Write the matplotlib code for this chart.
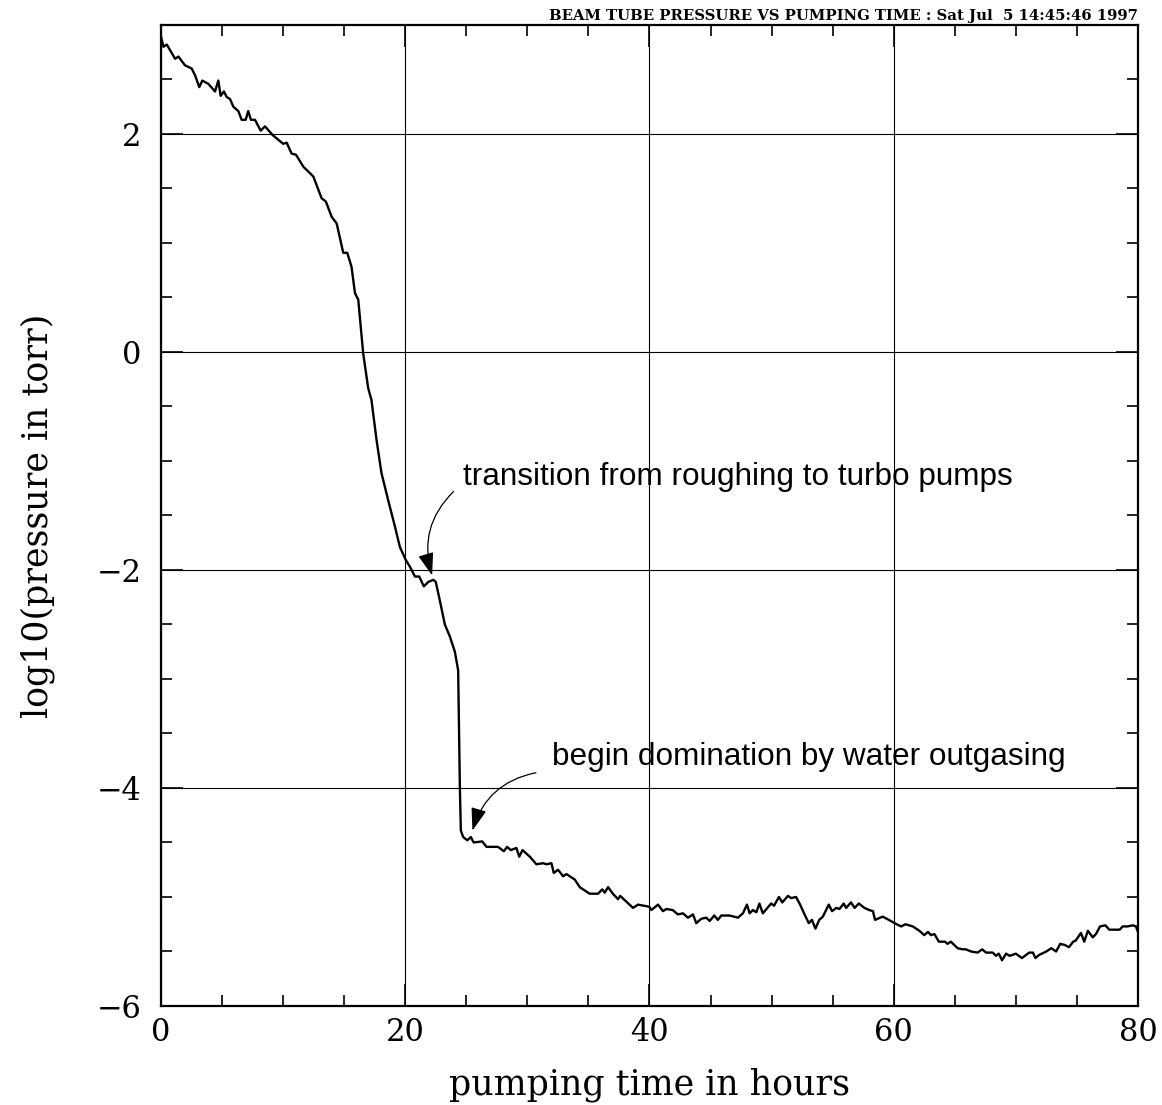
import matplotlib
matplotlib.use("Agg")
import matplotlib.pyplot as plt
from matplotlib.patches import FancyArrowPatch
from matplotlib.ticker import MultipleLocator

# pumping time (hours) and log10 pressure (torr)
hours = [
    0.0, 0.2, 0.47, 1.15, 1.42, 1.96, 2.51, 2.78, 3.13, 3.38, 3.87, 4.42, 4.69, 4.88,
    5.15, 5.37, 5.65, 5.92, 6.33, 6.60, 6.93, 7.14, 7.36, 7.69, 8.16, 8.51, 9.14,
    10.0, 10.29, 10.69, 11.05, 11.65, 12.47, 13.15, 13.5, 13.97, 14.38, 14.92, 15.25,
    15.6, 15.88, 16.15, 16.55, 16.96, 17.23, 17.65, 18.05, 18.6, 19.15, 19.56, 20.05,
    20.38, 20.79, 21.14, 21.52, 21.88, 22.3, 22.5, 22.83, 23.24, 23.65, 24.06, 24.33,
    24.47, 24.55, 24.74, 25.08, 25.37, 25.6, 26.3, 26.65, 27.6, 28.07, 28.34, 28.64,
    29.1, 29.33, 29.6, 30.2, 30.74, 31.29, 31.56, 31.97, 32.16, 32.51, 32.92, 33.2,
    33.88, 34.29, 35.1, 35.79, 36.13, 36.33, 36.61, 37.0, 37.42, 37.6, 38.65, 39.06,
    40.0, 40.15, 40.7, 41.1, 41.38, 41.9, 42.33, 42.74, 43.15, 43.56, 43.83, 44.24,
    44.65, 44.93, 45.3, 45.6, 45.88, 46.56, 47.24, 47.65, 47.98, 48.2, 48.47, 48.75,
    49.0, 49.28, 49.96, 50.2, 50.6, 50.87, 51.34, 51.6, 52.0, 52.29, 52.7, 53.04,
    53.3, 53.59, 53.9, 54.2, 54.68, 54.95, 55.3, 55.56, 55.9, 56.1, 56.5, 56.8,
    57.14, 57.6, 58.0, 58.3, 58.47, 59.1, 59.6, 60.07, 60.6, 60.97, 61.56, 62.1,
    62.5, 62.8, 63.05, 63.33, 63.7, 64.2, 64.4, 64.68, 65.23, 65.64, 65.9, 66.33,
    66.87, 67.24, 67.56, 68.1, 68.38, 68.6, 68.87, 69.2, 69.5, 70.0, 70.5, 71.1,
    71.4, 71.6, 71.93, 72.5, 72.9, 73.3, 73.63, 74.0, 74.35, 74.7, 74.9, 75.33,
    75.6, 75.9, 76.3, 76.56, 76.9, 77.33, 77.66, 78.07, 78.5, 78.75, 79.16, 79.57,
    79.84, 80.0,
]
log_pressure = [
    2.89, 2.80, 2.82, 2.69, 2.71, 2.63, 2.60, 2.54, 2.43, 2.49, 2.46, 2.39, 2.49, 2.35,
    2.39, 2.34, 2.32, 2.25, 2.21, 2.13, 2.13, 2.21, 2.13, 2.13, 2.03, 2.07, 1.99,
    1.91, 1.92, 1.82, 1.81, 1.70, 1.61, 1.41, 1.38, 1.24, 1.18, 0.91, 0.91,
    0.78, 0.54, 0.48, -0.01, -0.33, -0.44, -0.81, -1.11, -1.36, -1.60, -1.79, -1.91,
    -1.97, -2.06, -2.06, -2.15, -2.11, -2.09, -2.11, -2.28, -2.50, -2.61, -2.75, -2.92,
    -3.99, -4.39, -4.45, -4.48, -4.45, -4.50, -4.49, -4.54, -4.54, -4.58, -4.54, -4.57,
    -4.55, -4.63, -4.57, -4.63, -4.70, -4.69, -4.70, -4.69, -4.78, -4.75, -4.81, -4.79,
    -4.84, -4.91, -4.97, -4.97, -4.93, -4.96, -4.91, -4.97, -5.02, -4.99, -5.10, -5.07,
    -5.09, -5.12, -5.07, -5.13, -5.11, -5.12, -5.16, -5.15, -5.19, -5.16, -5.24, -5.20,
    -5.19, -5.22, -5.17, -5.21, -5.17, -5.17, -5.19, -5.15, -5.07, -5.15, -5.12, -5.14,
    -5.06, -5.15, -5.06, -5.08, -5.00, -5.05, -4.99, -5.01, -5.00, -5.06, -5.16, -5.24,
    -5.21, -5.29, -5.21, -5.18, -5.07, -5.13, -5.10, -5.11, -5.06, -5.10, -5.05, -5.10,
    -5.06, -5.10, -5.12, -5.13, -5.21, -5.18, -5.21, -5.24, -5.27, -5.25, -5.27, -5.31,
    -5.35, -5.32, -5.35, -5.34, -5.41, -5.41, -5.43, -5.41, -5.47, -5.48, -5.48, -5.50,
    -5.51, -5.48, -5.51, -5.51, -5.54, -5.52, -5.58, -5.52, -5.54, -5.52, -5.56, -5.51,
    -5.51, -5.56, -5.53, -5.50, -5.47, -5.50, -5.43, -5.44, -5.46, -5.41, -5.40, -5.33,
    -5.41, -5.31, -5.37, -5.34, -5.27, -5.26, -5.30, -5.30, -5.30, -5.27, -5.27, -5.26,
    -5.27, -5.32,
]

x_ticks = [0, 20, 40, 60, 80]
y_ticks = [-6, -4, -2, 0, 2]
y_tick_labels = ["\u22126", "\u22124", "\u22122", "0", "2"]

notes = [
    # text, text anchor (hours, log p), arrow start, arrow tip, bend
    ("transition from roughing to turbo pumps", (24.7, -1.15), (23.95, -1.28), (22.2, -2.05), 0.3),
    ("begin domination by water outgasing", (32.0, -3.72), (30.7, -3.86), (25.5, -4.39), 0.3),
]

fig = plt.figure(figsize=(11.62, 11.05), dpi=100)
ax = fig.add_axes([0.1386, 0.0896, 0.9793 - 0.1386, 0.9774 - 0.0896])

ax.plot(hours, log_pressure, color="black", lw=1.7, zorder=3)

ax.set_xlim(0, 80)
ax.set_ylim(-6, 3)
ax.set_xticks(x_ticks)
ax.set_yticks(y_ticks)
ax.set_yticklabels(y_tick_labels)
ax.xaxis.set_minor_locator(MultipleLocator(5))
ax.yaxis.set_minor_locator(MultipleLocator(0.5))

ax.grid(True, which="major", color="black", lw=0.8)
ax.tick_params(which="both", direction="in", top=True, right=True, width=1.2, color="black")
ax.tick_params(which="major", length=16)
ax.tick_params(which="minor", length=8)
ax.tick_params(axis="y", which="major", pad=14, labelsize=22)
ax.tick_params(axis="x", which="major", pad=8, labelsize=22)
for lab in ax.get_xticklabels() + ax.get_yticklabels():
    lab.set_family("DejaVu Serif")
for sp in ax.spines.values():
    sp.set_linewidth(1.6)

ax.set_xlabel("pumping time in hours", family="DejaVu Serif", fontsize=25, labelpad=14)
ax.set_ylabel("log10(pressure in torr)", family="DejaVu Serif", fontsize=25, labelpad=30)

for text, pos, start, tip, bend in notes:
    ax.text(pos[0], pos[1], text, family="Liberation Sans", fontsize=22.7,
            ha="left", va="center")
    ax.add_patch(FancyArrowPatch(start, tip, connectionstyle=f"arc3,rad={bend}",
                                 arrowstyle="-|>,head_length=1.4,head_width=0.48",
                                 color="black", lw=0.9, mutation_scale=10,
                                 shrinkA=0, shrinkB=0, zorder=4))

fig.text(0.9793, 0.9792, "BEAM TUBE PRESSURE VS PUMPING TIME : Sat Jul  5 14:45:46 1997",
         family="DejaVu Serif", weight="bold", fontsize=10.7, ha="right", va="bottom")

fig.savefig("out.png", dpi=100)
